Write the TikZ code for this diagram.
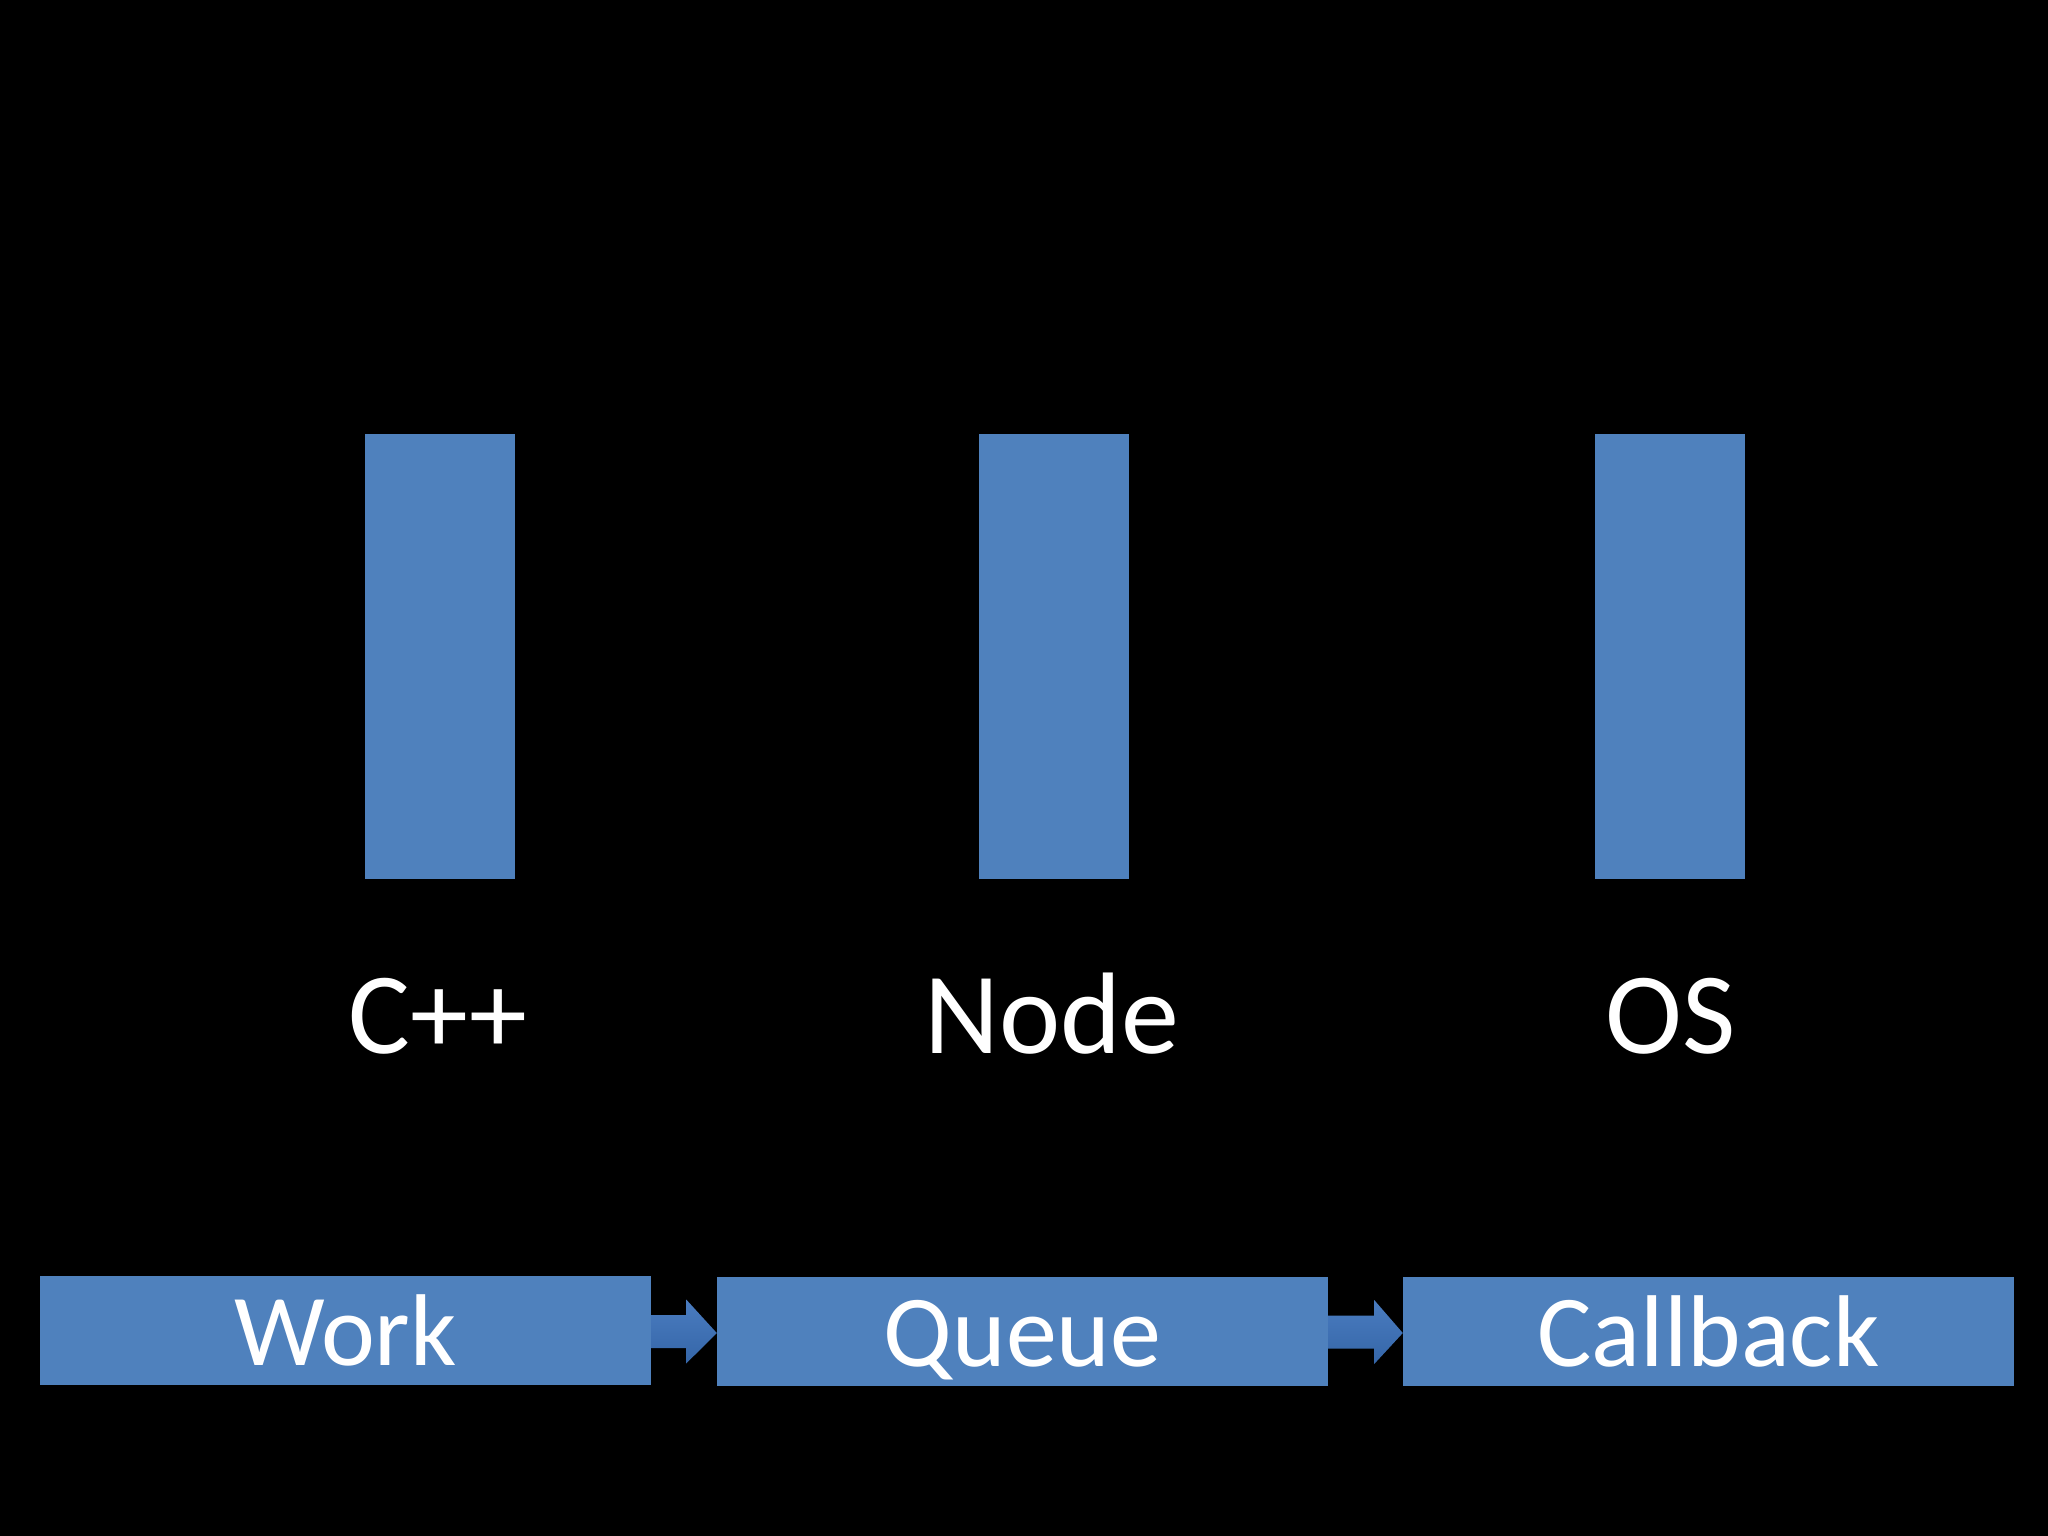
\documentclass[tikz,border=0pt]{standalone}
\usepackage{fontspec}
\setmainfont{Carlito}
\usetikzlibrary{calc}
\definecolor{officeblue}{HTML}{4F81BD}
\definecolor{arrowtop}{HTML}{4A7CC0}
\definecolor{arrowbot}{HTML}{3566A8}
\tikzset{
  bar/.style={fill=officeblue, draw=none, minimum width=150pt, minimum height=445pt, inner sep=0pt},
  stagebox/.style={fill=officeblue, draw=none, minimum width=611pt, minimum height=109pt, inner sep=0pt,
    text=white, font=\fontsize{102}{110}\selectfont, text height=70pt, text depth=0pt},
  toplabel/.style={text=white, font=\fontsize{116}{126}\selectfont, anchor=base, inner sep=0pt},
  blockarrow/.style={top color=arrowtop, bottom color=arrowbot, draw=none}
}
\begin{document}
\begin{tikzpicture}[x=1pt,y=-1pt]
\fill[black] (0,0) rectangle (2048,1536);
\useasboundingbox (0,0) rectangle (2048,1536);
% vertical bars
\node[bar] (cpp) at (439.5,656.5) {};
\node[bar] (nodebar) at (1054,656.5) {};
\node[bar] (os) at (1669.5,656.5) {};
% labels
\node[toplabel] (cpplbl) at (438,1053) {C++};
\node[toplabel] (nodelbl) at (1052,1053) {Node};
\node[toplabel] (oslbl) at (1671,1053) {OS};
% stage boxes
\node[stagebox] (work) at (345.5,1330.5) {Work};
\node[stagebox] (queue) at (1022.5,1331) {Queue};
\node[stagebox] (callback) at (1708.5,1331) {Callback};
% block arrows
\path[blockarrow]
  ($(work.east)+(0,-15.5)$) -- ($(work.east)+(35,-15.5)$) -- ($(work.east)+(35,-31)$)
  -- ($(queue.west)+(0,2)$) -- ($(work.east)+(35,33)$) -- ($(work.east)+(35,17.5)$)
  -- ($(work.east)+(0,17.5)$) -- cycle;
\path[blockarrow]
  ($(queue.east)+(0,-15.5)$) -- ($(queue.east)+(46,-15.5)$) -- ($(queue.east)+(46,-31)$)
  -- ($(callback.west)+(0,2)$) -- ($(queue.east)+(46,33)$) -- ($(queue.east)+(46,17.5)$)
  -- ($(queue.east)+(0,17.5)$) -- cycle;
\end{tikzpicture}
\end{document}
